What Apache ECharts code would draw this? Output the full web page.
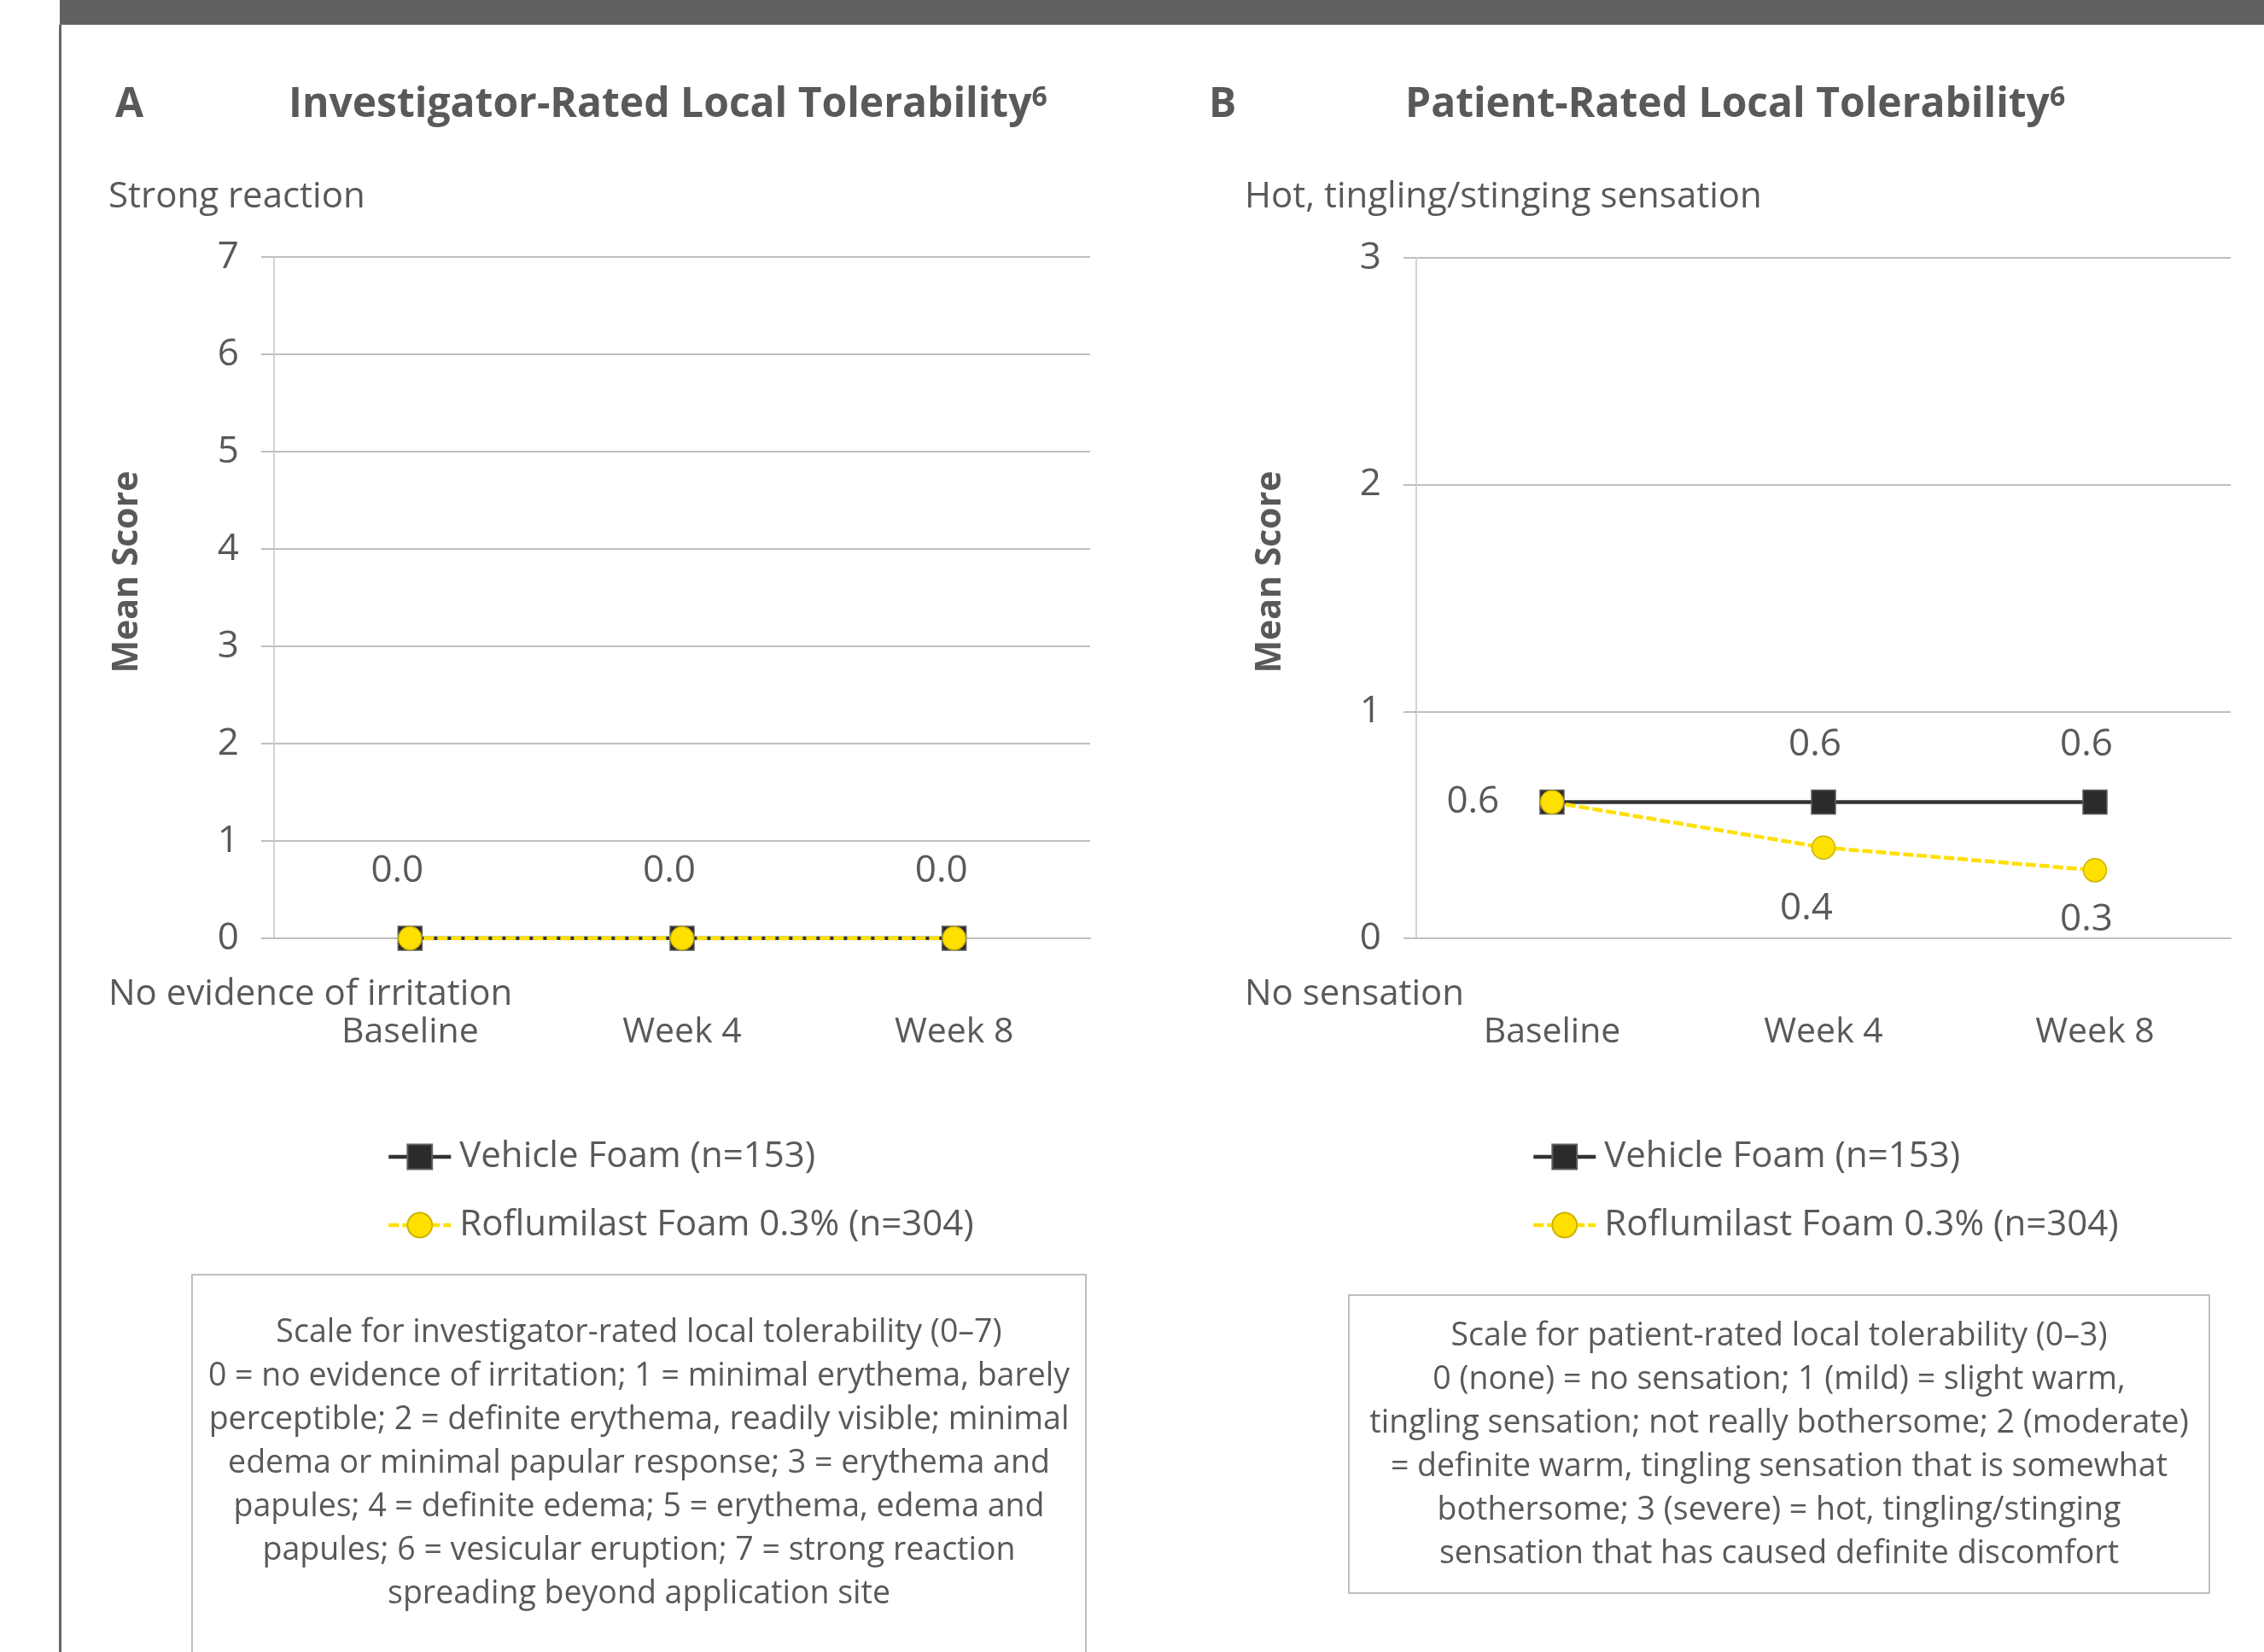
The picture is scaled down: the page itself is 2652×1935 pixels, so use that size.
<!DOCTYPE html>
<html>
<head>
<meta charset="utf-8">
<script src="https://cdn.jsdelivr.net/npm/echarts@6/dist/echarts.min.js"></script>
<style>
  html, body { margin: 0; padding: 0; background: #fff; }
  #chart { width: 2652px; height: 1935px; }
</style>
</head>
<body>
<div id="chart"></div>
<script>
// data
const categories = ['Baseline', 'Week 4', 'Week 8']
const seriesNames = ['Vehicle Foam (n=153)', 'Roflumilast Foam 0.3% (n=304)']

const investigatorVehicle = [0.0, 0.0, 0.0]
const investigatorRoflumilast = [0.0, 0.0, 0.0]
const patientVehicle = [0.6, 0.6, 0.6]
const patientRoflumilast = [0.6, 0.4, 0.3]

const investigatorTicks = { min: 0, max: 7, interval: 1 }
const patientTicks = { min: 0, max: 3, interval: 1 }

const investigatorScale = [
  'Scale for investigator-rated local tolerability (0\u20137)',
  '0 = no evidence of irritation; 1 = minimal erythema, barely',
  'perceptible; 2 = definite erythema, readily visible; minimal',
  'edema or minimal papular response; 3 = erythema and',
  'papules; 4 = definite edema; 5 = erythema, edema and',
  'papules; 6 = vesicular eruption; 7 = strong reaction',
  'spreading beyond application site'
]
const patientScale = [
  'Scale for patient-rated local tolerability (0\u20133)',
  '0 (none) = no sensation; 1 (mild) = slight warm,',
  'tingling sensation; not really bothersome; 2 (moderate)',
  '= definite warm, tingling sensation that is somewhat',
  'bothersome; 3 (severe) = hot, tingling/stinging',
  'sensation that has caused definite discomfort'
]

const FONT = "'Open Sans', 'Noto Sans', sans-serif"
const TEXT = '#595959'
const GRID = '#bfbfbf'

const chart = echarts.init(document.getElementById('chart'))

const fmt = p => p.value.toFixed(1)

// label placement per point (index matches categories)
const hidden = { show: false }
const labelAt = (position, distance, offset) => ({ show: true, position, distance, offset })

const vehicleStyle = {
  type: 'line',
  symbol: 'rect',
  symbolSize: 28,
  lineStyle: { color: '#333333', width: 4.5 },
  itemStyle: { color: '#2b2b2b', borderColor: '#5e5e5e', borderWidth: 1.5 },
  label: { fontSize: 44, color: TEXT, fontFamily: FONT, formatter: fmt },
  z: 2
}
const roflumilastStyle = {
  type: 'line',
  symbol: 'circle',
  symbolSize: 27,
  lineStyle: { color: '#FFE000', width: 4.5, type: [12, 4] },
  itemStyle: { color: '#FFE000', borderColor: '#CDB200', borderWidth: 1.5 },
  label: { fontSize: 44, color: TEXT, fontFamily: FONT, formatter: fmt },
  z: 3
}

const withLabels = (values, labels) => values.map((v, i) => ({ value: v, label: labels[i] }))

const xAxisBase = {
  type: 'category',
  data: categories,
  boundaryGap: true,
  axisLine: { lineStyle: { color: GRID, width: 2 } },
  axisTick: { show: false },
  axisLabel: { margin: 90, fontSize: 41, color: TEXT, fontFamily: FONT }
}
const yAxisBase = {
  type: 'value',
  axisLine: { show: true, lineStyle: { color: '#d4d4d4', width: 2 } },
  axisTick: { show: true, length: 15, lineStyle: { color: GRID, width: 2 } },
  splitLine: { lineStyle: { color: GRID, width: 2 } },
  axisLabel: { margin: 41, fontSize: 44, color: TEXT, fontFamily: FONT }
}

const legendBase = {
  orient: 'vertical',
  top: 1329,
  itemWidth: 73,
  itemHeight: 36,
  itemGap: 38,
  lineStyle: { width: 4.5 },
  textStyle: { fontSize: 42, color: TEXT, fontFamily: FONT, padding: [0, 0, 0, 5] },
  data: seriesNames
}

const titleText = (x, letter, lx, text) => [
  { type: 'text', x, y: 123, style: { text: letter, fontSize: 48, fontWeight: 'bold', fill: TEXT, fontFamily: FONT, textVerticalAlign: 'middle' } },
  {
    type: 'text', x: lx, y: 123,
    style: {
      text: '{t|' + text + '}{s|6}',
      fill: TEXT,
      textVerticalAlign: 'middle',
      rich: {
        t: { fontSize: 48, fontWeight: 'bold', fontFamily: FONT, fill: TEXT },
        s: { fontSize: 32, fontWeight: 'bold', fontFamily: FONT, fill: TEXT, verticalAlign: 'top' }
      }
    }
  }
]

const axisTitle = (x, y) => ({
  type: 'text', x, y, rotation: Math.PI / 2,
  style: {
    text: 'Mean Score', fontSize: 41, fontWeight: 'bold', fill: TEXT, fontFamily: FONT,
    textAlign: 'center', textVerticalAlign: 'middle'
  }
})

const plainText = (x, y, text) => ({
  type: 'text', x, y,
  style: { text, fontSize: 42, fill: TEXT, fontFamily: FONT, textVerticalAlign: 'middle' }
})

const scaleBox = (x, y, w, h, lines, textTop) => [
  { type: 'rect', shape: { x, y, width: w, height: h }, style: { fill: '#fff', stroke: GRID, lineWidth: 2 } },
  {
    type: 'text', x: x + w / 2, y: textTop,
    style: {
      text: lines.join('\n'), fontSize: 37.5, lineHeight: 51, fill: TEXT, fontFamily: FONT,
      textAlign: 'center', textVerticalAlign: 'top'
    }
  }
]

const option = {
  backgroundColor: '#ffffff',
  animation: false,
  grid: [
    { left: 321, width: 956, top: 301, height: 798 },
    { left: 1659, width: 954, top: 302, height: 797 }
  ],
  xAxis: [
    { ...xAxisBase, gridIndex: 0 },
    { ...xAxisBase, gridIndex: 1 }
  ],
  yAxis: [
    { ...yAxisBase, gridIndex: 0, ...investigatorTicks },
    { ...yAxisBase, gridIndex: 1, ...patientTicks }
  ],
  legend: [
    { ...legendBase, left: 448 },
    { ...legendBase, left: 1789 }
  ],
  series: [
    {
      ...vehicleStyle, name: seriesNames[0], xAxisIndex: 0, yAxisIndex: 0,
      data: withLabels(investigatorVehicle, [
        labelAt('top', 42, [-15, 0]), labelAt('top', 42, [-15, 0]), labelAt('top', 42, [-15, 0])
      ])
    },
    {
      ...roflumilastStyle, name: seriesNames[1], xAxisIndex: 0, yAxisIndex: 0,
      data: withLabels(investigatorRoflumilast, [hidden, hidden, hidden])
    },
    {
      ...vehicleStyle, name: seriesNames[0], xAxisIndex: 1, yAxisIndex: 1,
      data: withLabels(patientVehicle, [
        labelAt('left', 47, [0, 0]), labelAt('top', 30, [-10, 0]), labelAt('top', 30, [-10, 0])
      ])
    },
    {
      ...roflumilastStyle, name: seriesNames[1], xAxisIndex: 1, yAxisIndex: 1,
      data: withLabels(patientRoflumilast, [
        hidden, labelAt('bottom', 35, [-20, 0]), labelAt('bottom', 22, [-10, 0])
      ])
    }
  ],
  graphic: [
    // header band and left rule
    { type: 'rect', shape: { x: 70, y: 0, width: 2582, height: 29 }, style: { fill: '#616161' } },
    { type: 'rect', shape: { x: 69, y: 29, width: 3, height: 1906 }, style: { fill: '#666666' } },
    ...titleText(135, 'A', 338, 'Investigator-Rated Local Tolerability'),
    ...titleText(1416, 'B', 1646, 'Patient-Rated Local Tolerability'),
    axisTitle(149, 670),
    axisTitle(1488, 670),
    plainText(127, 231, 'Strong reaction'),
    plainText(127, 1165, 'No evidence of irritation'),
    plainText(1458, 231, 'Hot, tingling/stinging sensation'),
    plainText(1458, 1165, 'No sensation'),
    ...scaleBox(225, 1493, 1047, 470, investigatorScale, 1536),
    ...scaleBox(1580, 1517, 1008, 349, patientScale, 1540)
  ]
}

chart.setOption(option)
window.addEventListener('resize', () => chart.resize())
</script>
</body>
</html>
